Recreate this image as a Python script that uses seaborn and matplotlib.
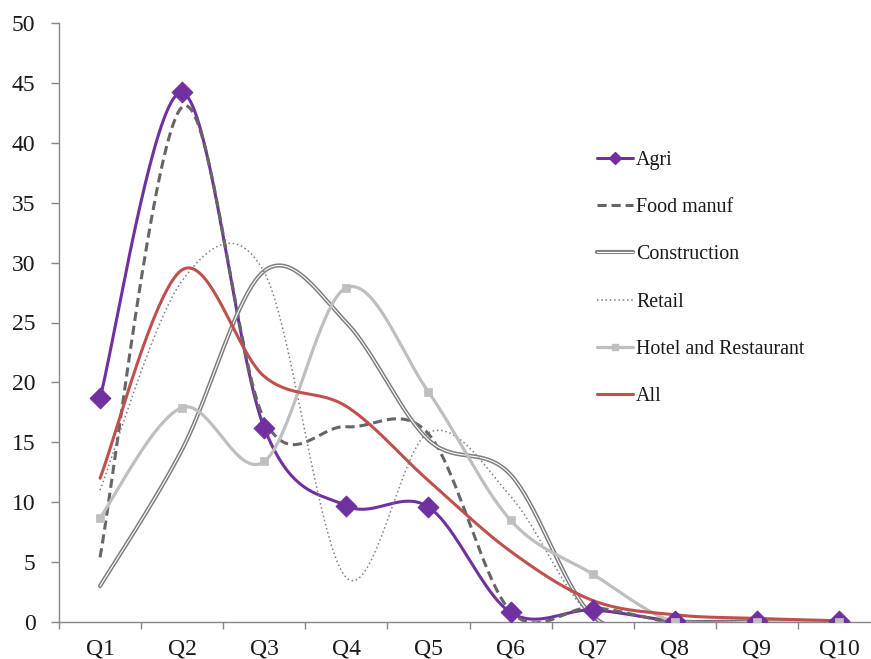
import numpy as np
import pandas as pd
import matplotlib
matplotlib.use("Agg")
import matplotlib.pyplot as plt
from matplotlib.lines import Line2D
import seaborn as sns

# Data
quantiles = ["Q1", "Q2", "Q3", "Q4", "Q5", "Q6", "Q7", "Q8", "Q9", "Q10"]
agri = [18.7, 44.2, 16.2, 9.7, 9.6, 0.8, 1.0, 0.1, 0.1, 0.1]
food_manuf = [5.4, 43.0, 16.9, 16.3, 15.7, 0.9, 1.2, 0.0, 0.0, 0.0]
construction = [3.0, 14.4, 29.3, 25.0, 15.2, 12.3, 0.5, 0.0, 0.0, 0.0]
retail = [11.0, 28.5, 29.2, 3.7, 15.8, 10.5, 0.4, 0.0, 0.0, 0.0]
hotel_restaurant = [8.7, 17.9, 13.4, 27.9, 19.2, 8.5, 4.0, 0.0, 0.0, 0.0]
all_sectors = [12.0, 29.4, 20.5, 18.0, 11.8, 5.9, 1.8, 0.6, 0.3, 0.1]

y_ticks = [0, 5, 10, 15, 20, 25, 30, 35, 40, 45, 50]


def smooth(values, steps=40):
    """Bezier smoothing through the points (Catmull-Rom style control points)."""
    pts = np.column_stack([np.arange(len(values), dtype=float), np.asarray(values, float)])
    n = len(pts)
    out = []
    t = np.linspace(0, 1, steps)[:, None]
    for i in range(n - 1):
        p0 = pts[i]
        p3 = pts[i + 1]
        pm = pts[i - 1] if i > 0 else pts[i]
        pp = pts[i + 2] if i + 2 < n else pts[i + 1]
        c1 = p0 + (p3 - pm) / 6.0
        c2 = p3 - (pp - p0) / 6.0
        seg = ((1 - t) ** 3) * p0 + 3 * ((1 - t) ** 2) * t * c1 + 3 * (1 - t) * t ** 2 * c2 + t ** 3 * p3
        out.append(seg if i == 0 else seg[1:])
    curve = np.vstack(out)
    return pd.DataFrame({"x": curve[:, 0], "y": curve[:, 1]})


sns.set_theme(style="white")
plt.rcParams["font.family"] = ["Liberation Serif", "DejaVu Serif"]

fig = plt.figure(figsize=(8.71, 6.59), dpi=100)
ax = fig.add_axes([59 / 871, 37 / 659, 821 / 871, 599 / 659])

purple = "#7030A0"
red = "#C0504D"
xs = np.arange(len(quantiles))

# Agri
sns.lineplot(data=smooth(agri), x="x", y="y", ax=ax, color=purple, lw=2.2, sort=False, zorder=3)
sns.scatterplot(x=xs, y=agri, ax=ax, marker="D", s=110, color=purple, edgecolor=purple, zorder=4)

# Food manufacturing
sns.lineplot(data=smooth(food_manuf), x="x", y="y", ax=ax, color="#666666", lw=2.2, sort=False,
             linestyle=(0, (3, 1.6)), zorder=3)

# Construction (double line)
c_curve = smooth(construction)
sns.lineplot(data=c_curve, x="x", y="y", ax=ax, color="#7F7F7F", lw=3.0, sort=False, zorder=3)
sns.lineplot(data=c_curve, x="x", y="y", ax=ax, color="white", lw=0.8, sort=False, zorder=3)

# Retail
sns.lineplot(data=smooth(retail), x="x", y="y", ax=ax, color="#7F7F7F", lw=1.1, sort=False,
             linestyle=(0, (1, 1.8)), zorder=3)

# Hotel and Restaurant
sns.lineplot(data=smooth(hotel_restaurant), x="x", y="y", ax=ax, color="#BFBFBF", lw=2.3, sort=False, zorder=3)
sns.scatterplot(x=xs, y=hotel_restaurant, ax=ax, marker="s", s=40, color="#BFBFBF", edgecolor="#BFBFBF", zorder=4)

# All sectors
sns.lineplot(data=smooth(all_sectors), x="x", y="y", ax=ax, color=red, lw=2.2, sort=False, zorder=3)

ax.set_xlim(-0.5, len(quantiles) - 0.5)
ax.set_ylim(0, 50)
ax.set_yticks(y_ticks)
ax.set_yticklabels([str(v) for v in y_ticks])
ax.set_xticks(xs)
ax.set_xticklabels(quantiles)
ax.set_xticks(np.arange(-0.5, len(quantiles), 1.0), minor=True)
ax.set_xlabel("")
ax.set_ylabel("")

for side in ["top", "right"]:
    ax.spines[side].set_visible(False)
for side in ["left", "bottom"]:
    ax.spines[side].set_color("#868686")
    ax.spines[side].set_linewidth(1.0)

ax.tick_params(axis="y", which="major", direction="out", length=6, width=1, color="#868686",
               labelsize=17, pad=11, left=True)
ax.tick_params(axis="x", which="major", length=0, labelsize=17, pad=12, bottom=True)
ax.tick_params(axis="x", which="minor", direction="out", length=5, width=1, color="#868686", bottom=True)
for lbl in ax.get_xticklabels() + ax.get_yticklabels():
    lbl.set_color("#1a1a1a")

# Legend
handles = [
    Line2D([], [], color=purple, lw=2.2, marker="D", markersize=6),
    Line2D([], [], color="#666666", lw=2.2, linestyle=(0, (3, 1.6))),
    (Line2D([], [], color="#7F7F7F", lw=3.0), Line2D([], [], color="white", lw=0.8)),
    Line2D([], [], color="#7F7F7F", lw=1.1, linestyle=(0, (1, 1.8))),
    Line2D([], [], color="#BFBFBF", lw=2.3, marker="s", markersize=5),
    Line2D([], [], color=red, lw=2.2),
]
labels = ["Agri", "Food manuf", "Construction", "Retail", "Hotel and Restaurant", "All"]
leg = ax.legend(handles, labels, loc="upper left", bbox_to_anchor=(589 / 871, 1 - 143 / 659),
                bbox_transform=fig.transFigure, frameon=False, fontsize=14.4,
                handlelength=1.8, handletextpad=0.15, labelspacing=1.41, borderaxespad=0)
for t in leg.get_texts():
    t.set_color("#1a1a1a")

fig.savefig("out.png", dpi=100)
